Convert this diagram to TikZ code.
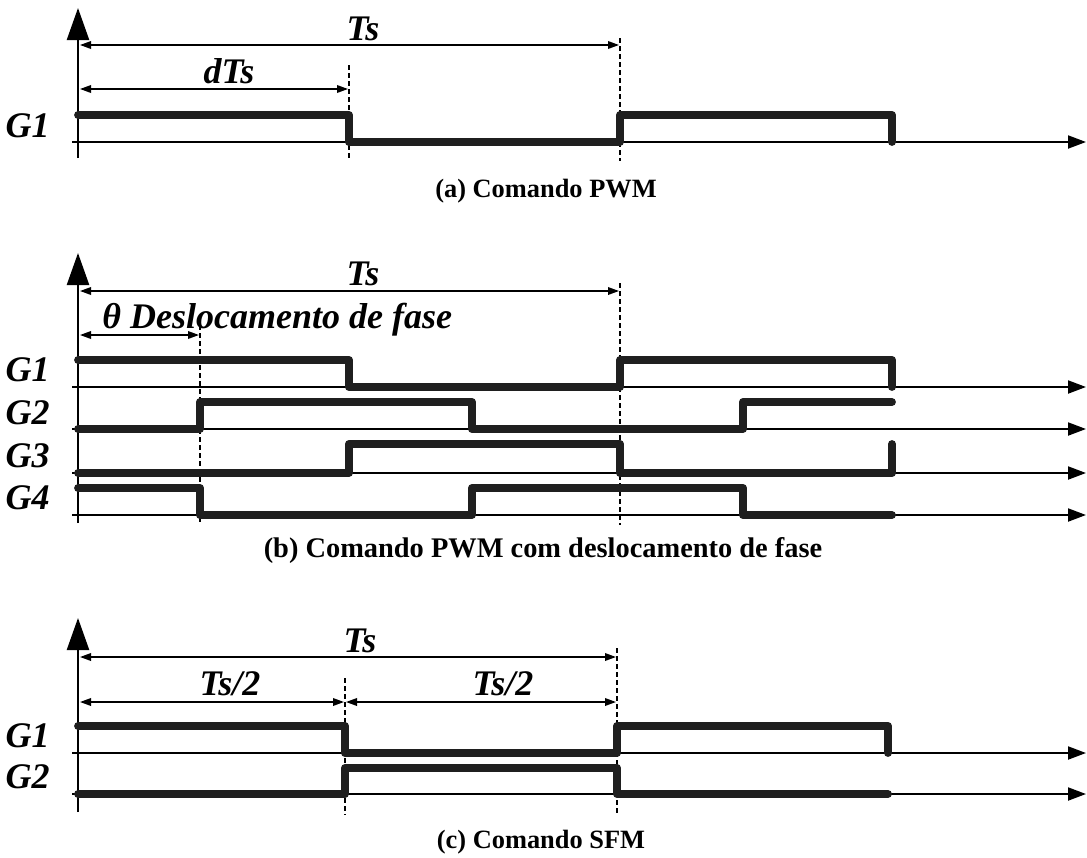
\documentclass[tikz,border=0pt]{standalone}
\usepackage{fontspec}
\setmainfont{Liberation Serif}
\usepackage{tikz}
\usetikzlibrary{arrows.meta}

\begin{document}
\begin{tikzpicture}[x=0.5pt, y=-0.5pt,
        axis/.style={line width=1pt, -{Triangle[length=9pt,width=6.5pt]}},
        yaxis/.style={line width=1.2pt, -{Triangle[length=16pt,width=11pt]}},
        sig/.style={line width=3.9pt, line cap=round, line join=round, black!88},
        dim/.style={line width=0.75pt, {Triangle[length=5.5pt,width=3.8pt]}-{Triangle[length=5.5pt,width=3.8pt]}},
        guide/.style={line width=0.7pt, dash pattern=on 2.5pt off 1.5pt},
        lbl/.style={font=\fontsize{18}{21}\selectfont\bfseries\itshape, anchor=base, inner sep=0pt},
        capt/.style={font=\fontsize{13.2}{16}\selectfont\bfseries, anchor=base, inner sep=0pt}]
        \useasboundingbox (0,0) rectangle (1087,857);

        % (a) Comando PWM
        \coordinate (a-y0)   at (78,158);   \coordinate (a-y1)   at (78,8);
        \coordinate (a-g1a)  at (72,142);   \coordinate (a-g1b)  at (1086,142);
        \coordinate (a-v1t)  at (349,65);   \coordinate (a-v1b)  at (349,161);
        \coordinate (a-v2t)  at (620,38);   \coordinate (a-v2b)  at (620,161);
        \coordinate (a-ts0)  at (80,45);    \coordinate (a-ts1)  at (619,45);
        \coordinate (a-dts0) at (80,89);    \coordinate (a-dts1) at (348,89);
        \draw [guide] (a-v1t) -- (a-v1b);                              %dTs
        \draw [guide] (a-v2t) -- (a-v2b);                              %Ts
        \draw [yaxis] (a-y0)  -- (a-y1);                               %
        \draw [axis]  (a-g1a) -- (a-g1b);                              %G1
        \draw [dim]   (a-ts0) -- (a-ts1);                              %
        \draw [dim]   (a-dts0) -- (a-dts1);                            %
        \node [lbl] (a-ts)  at (363,40) {Ts};                          %
        \node [lbl] (a-dts) at (229,83) {dTs};                         %
        \node [lbl, anchor=base east] (a-g1) at (50,137) {G1};         %
        \draw [sig] (78,115) -- (349,115) -- (349,142) -- (620,142) -- (620,115) -- (892,115) -- (892,142);
        \node [capt] (a-cap) at (546,197) {(a) Comando PWM};

        % (b) Comando PWM com deslocamento de fase
        \coordinate (b-y0)   at (78,523);   \coordinate (b-y1)   at (78,253);
        \coordinate (b-g1a)  at (72,387);   \coordinate (b-g1b)  at (1086,387);
        \coordinate (b-g2a)  at (72,429);   \coordinate (b-g2b)  at (1086,429);
        \coordinate (b-g3a)  at (72,473);   \coordinate (b-g3b)  at (1086,473);
        \coordinate (b-g4a)  at (72,515);   \coordinate (b-g4b)  at (1086,515);
        \coordinate (b-v1t)  at (200,325);  \coordinate (b-v1b)  at (200,525);
        \coordinate (b-v2t)  at (620,283);  \coordinate (b-v2b)  at (620,525);
        \coordinate (b-ts0)  at (80,291);   \coordinate (b-ts1)  at (619,291);
        \coordinate (b-th0)  at (80,335);   \coordinate (b-th1)  at (199,335);
        \draw [guide] (b-v1t) -- (b-v1b);                              %theta
        \draw [guide] (b-v2t) -- (b-v2b);                              %Ts
        \draw [yaxis] (b-y0)  -- (b-y1);                               %
        \draw [axis]  (b-g1a) -- (b-g1b);                              %G1
        \draw [axis]  (b-g2a) -- (b-g2b);                              %G2
        \draw [axis]  (b-g3a) -- (b-g3b);                              %G3
        \draw [axis]  (b-g4a) -- (b-g4b);                              %G4
        \draw [dim]   (b-ts0) -- (b-ts1);                              %
        \draw [dim]   (b-th0) -- (b-th1);                              %
        \node [lbl] (b-ts) at (363,285) {Ts};                          %
        \node [lbl, anchor=base west] (b-th) at (102,328) {θ Deslocamento de fase};
        \node [lbl, anchor=base east] (b-g1) at (50,381) {G1};         %
        \node [lbl, anchor=base east] (b-g2) at (50,424) {G2};         %
        \node [lbl, anchor=base east] (b-g3) at (50,467) {G3};         %
        \node [lbl, anchor=base east] (b-g4) at (50,509) {G4};         %
        \draw [sig] (78,360) -- (349,360) -- (349,387) -- (620,387) -- (620,360) -- (892,360) -- (892,387);
        \draw [sig] (78,429) -- (200,429) -- (200,402) -- (472,402) -- (472,429) -- (743,429) -- (743,402) -- (892,402);
        \draw [sig] (78,473) -- (349,473) -- (349,444) -- (620,444) -- (620,473) -- (892,473) -- (892,444);
        \draw [sig] (78,488) -- (200,488) -- (200,515) -- (472,515) -- (472,488) -- (743,488) -- (743,515) -- (892,515);
        \node [capt, font=\fontsize{14.2}{17}\selectfont\bfseries] (b-cap) at (543,557) {(b) Comando PWM com deslocamento de fase};

        % (c) Comando SFM
        \coordinate (c-y0)   at (78,812);   \coordinate (c-y1)   at (78,618);
        \coordinate (c-g1a)  at (72,753);   \coordinate (c-g1b)  at (1086,753);
        \coordinate (c-g2a)  at (72,794);   \coordinate (c-g2b)  at (1086,794);
        \coordinate (c-v1t)  at (345,678);  \coordinate (c-v1b)  at (345,815);
        \coordinate (c-v2t)  at (617,648);  \coordinate (c-v2b)  at (617,815);
        \coordinate (c-ts0)  at (80,657);   \coordinate (c-ts1)  at (616,657);
        \coordinate (c-h0)   at (80,702);   \coordinate (c-h1)   at (344,702);
        \coordinate (c-h2)   at (346,702);  \coordinate (c-h3)   at (616,702);
        \draw [guide] (c-v1t) -- (c-v1b);                              %Ts/2
        \draw [guide] (c-v2t) -- (c-v2b);                              %Ts
        \draw [yaxis] (c-y0)  -- (c-y1);                               %
        \draw [axis]  (c-g1a) -- (c-g1b);                              %G1
        \draw [axis]  (c-g2a) -- (c-g2b);                              %G2
        \draw [dim]   (c-ts0) -- (c-ts1);                              %
        \draw [dim]   (c-h0)  -- (c-h1);                               %
        \draw [dim]   (c-h2)  -- (c-h3);                               %
        \node [lbl] (c-ts)  at (360,652) {Ts};                         %
        \node [lbl] (c-h1t) at (230,695) {Ts/2};                       %
        \node [lbl] (c-h2t) at (503,695) {Ts/2};                       %
        \node [lbl, anchor=base east] (c-g1) at (50,747) {G1};         %
        \node [lbl, anchor=base east] (c-g2) at (50,788) {G2};         %
        \draw [sig] (78,726) -- (345,726) -- (345,753) -- (617,753) -- (617,726) -- (888,726) -- (888,753);
        \draw [sig] (78,794) -- (345,794) -- (345,768) -- (617,768) -- (617,794) -- (888,794);
        \node [capt] (c-cap) at (541,848) {(c) Comando SFM};
      \end{tikzpicture}
\end{document}
